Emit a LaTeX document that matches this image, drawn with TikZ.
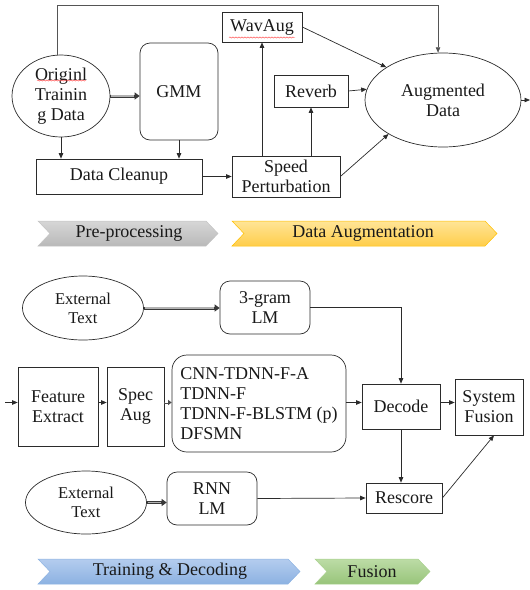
\documentclass[tikz,border=0pt]{standalone}
\usepackage{fontspec}
\setmainfont{Liberation Serif}
\newfontfamily\diagfont{Liberation Serif}
\usetikzlibrary{arrows.meta,shapes.geometric,decorations.pathmorphing}

\definecolor{lineclr}{HTML}{2B2B2B}
\definecolor{grayT}{HTML}{D6D6D6}\definecolor{grayB}{HTML}{B9B9B9}\definecolor{grayE}{HTML}{C4C4C4}
\definecolor{orT}{HTML}{FFE597}\definecolor{orB}{HTML}{FFCD4A}\definecolor{orE}{HTML}{FFC000}
\definecolor{blT}{HTML}{B4CCEE}\definecolor{blB}{HTML}{8CB2E2}\definecolor{blE}{HTML}{8DB3E2}
\definecolor{grT}{HTML}{BCDCA6}\definecolor{grB}{HTML}{98C47A}\definecolor{grE}{HTML}{A9D18E}

\tikzset{
  every node/.style={font=\diagfont\fontsize{18}{20}\selectfont, text=black!90},
  box/.style={draw=lineclr, line width=0.7pt, rectangle, inner sep=0pt, align=center},
  rbox/.style={box, rounded corners=10pt},
  oval/.style={draw=lineclr, line width=0.7pt, ellipse, inner sep=0pt, align=center},
  arr/.style={draw=lineclr, line width=0.7pt, -{Triangle[length=5.5pt,width=4.5pt]}},
  plain/.style={draw=lineclr!80, line width=0.7pt},
  dblarr/.style={draw=gray!45!black, line width=3pt,
                 -{Triangle[length=5pt,width=7pt]},
                 postaction={draw=gray!60, line width=1.3pt, -, shorten >=5.5pt, shorten <=0.8pt}},
  smalldbl/.style={draw=gray!60!black, line width=2pt,
                 -{Triangle[length=3.5pt,width=5pt]},
                 postaction={draw=white, line width=0.8pt, -, shorten >=3.8pt, shorten <=0.6pt}},
  spell/.style={draw=red!75, line width=0.4pt, decorate,
                decoration={snake, amplitude=0.6pt, segment length=3pt}},
  chevtext/.style={inner sep=0pt}
}

\begin{document}
\begin{tikzpicture}[x=1pt, y=-1pt]
\useasboundingbox (0,0) rectangle (530,590);

% ---------- pre-processing and augmentation ----------
\node[oval, minimum width=98pt, minimum height=82pt] (orig) at (61,96) {Originl\\Trainin\\g Data};
\node[rbox, minimum width=78pt, minimum height=97pt] (gmm) at (179,91.5) {GMM};
\node[box, minimum width=166pt, minimum height=35pt] (clean) at (119,176.5) {Data Cleanup};
\node[box, minimum width=108pt, minimum height=41pt] (speed) at (286,176.5) {Speed\\Perturbation};
\node[box, minimum width=80pt, minimum height=30pt] (wav) at (262,27) {WavAug};
\node[box, minimum width=74pt, minimum height=32pt] (reverb) at (311,91) {Reverb};
\node[oval, minimum width=156pt, minimum height=94pt] (aug) at (443,100) {Augmented\\Data};
\coordinate (topy) at (0,5);
\coordinate (augout) at (530,100);

% spell-check underlines
\draw[spell] (37,80.5) -- (86,80.5);
\draw[spell] (229,37.5) -- (295,37.5);

\draw[plain] (orig.95) |- (topy -| aug.96);
\draw[arr, draw=lineclr!80] (topy -| aug.96) -- (aug.96);
\draw[dblarr] (orig.east) -- (orig.east -| gmm.west);
\draw[arr] (orig.south) -- (orig.south |- clean.north);
\draw[arr] (gmm.south) -- (gmm.south |- clean.north);
\draw[arr] (clean.east) -- (speed.west);
\draw[arr] (wav.south |- speed.north) -- (wav.south);
\draw[arr] (reverb.south |- speed.north) -- (reverb.south);
\draw[arr] (reverb.east) -- (aug.172);
\draw[arr] (wav.east) -- (aug.150);
\draw[arr] (speed.east) -- (aug.212);
\draw[arr] (aug.east) -- (augout);

% ---------- stage labels ----------
\shade[top color=grayT, bottom color=grayB, draw=grayE, line width=0.5pt]
  (38,221) -- (206,221) -- (218,233.5) -- (206,246) -- (38,246) -- (50,233.5) -- cycle;
\node[chevtext] (lpre) at (129,233.5) {Pre-processing};
\shade[top color=orT, bottom color=orB, draw=orE, line width=0.5pt]
  (232,221) -- (485,221) -- (497,233.5) -- (485,246) -- (232,246) -- (244,233.5) -- cycle;
\node[chevtext] (laug) at (363,233.5) {Data Augmentation};
\shade[top color=blT, bottom color=blB, draw=blE, line width=0.5pt]
  (38,559) -- (288,559) -- (300,571.5) -- (288,584) -- (38,584) -- (50,571.5) -- cycle;
\node[chevtext] (ltrain) at (170,571.5) {Training \& Decoding};
\shade[top color=grT, bottom color=grB, draw=grE, line width=0.5pt]
  (315,559) -- (418,559) -- (430,571.5) -- (418,584) -- (315,584) -- (327,571.5) -- cycle;
\node[chevtext] (lfus) at (372,571.5) {Fusion};

% ---------- training, decoding and fusion ----------
\node[oval, minimum width=121pt, minimum height=64pt, font=\diagfont\fontsize{16.5}{19}\selectfont] (ext1) at (83,308) {External\\Text};
\node[rbox, minimum width=90pt, minimum height=53pt] (lm3) at (265,307.5) {3-gram\\LM};
\node[box, minimum width=80pt, minimum height=79pt] (feat) at (58,406.5) {Feature\\Extract};
\node[box, minimum width=57pt, minimum height=79pt] (spec) at (135.5,406.5) {Spec\\Aug};
\node[rbox, rounded corners=15pt, minimum width=174pt, minimum height=97pt, align=left] (model) at (259,403.5)
  {CNN-TDNN-F-A\\TDNN-F\\TDNN-F-BLSTM (p)\\DFSMN};
\node[box, minimum width=78pt, minimum height=45pt] (decode) at (401,406.5) {Decode};
\node[box, minimum width=68pt, minimum height=56pt] (fusion) at (489,407) {System\\Fusion};
\node[box, minimum width=76pt, minimum height=30pt] (rescore) at (404,498) {Rescore};
\node[oval, minimum width=121pt, minimum height=63pt, font=\diagfont\fontsize{16.5}{19}\selectfont] (ext2) at (86,502.5) {External\\Text};
\node[rbox, minimum width=90pt, minimum height=53pt] (rnn) at (212,498.5) {RNN\\LM};
\coordinate (featin) at (5,402.5);

\draw[dblarr] (ext1.east) -- (ext1.east -| lm3.west);
\draw[arr] (lm3.east) -| (decode.north);
\draw[arr] (featin) -- (featin -| feat.west);
\draw[arr] ([yshift=4pt]feat.east) -- ([yshift=4pt]spec.west);
\draw[smalldbl] ([yshift=4pt]spec.east) -- ([yshift=4pt]spec.east -| model.west);
\draw[arr] ([yshift=1pt]model.east) -- ([yshift=1pt]model.east -| decode.west);
\draw[arr] ([yshift=4pt]decode.east) -- ([yshift=4pt]decode.east -| fusion.west);
\draw[arr] (decode.south) -- (decode.south |- rescore.north);
\draw[dblarr] (ext2.east) -- (ext2.east -| rnn.west);
\draw[arr] (rnn.east) -- (rescore.west);
\draw[arr] (rescore.east) -- (fusion.-80);
\end{tikzpicture}
\end{document}
